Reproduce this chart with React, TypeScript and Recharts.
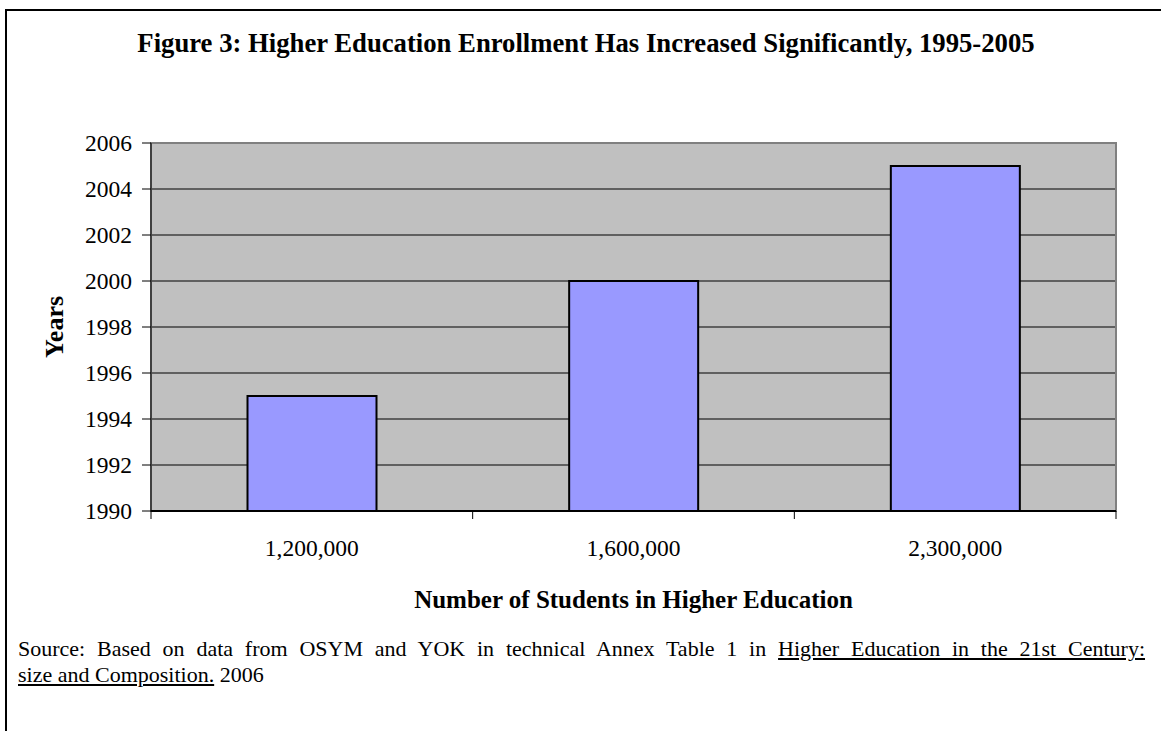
import React from "react";
import { BarChart, Bar, XAxis, YAxis, CartesianGrid, ReferenceArea, Label } from "recharts";

const categories = ["1,200,000", "1,600,000", "2,300,000"];
const years = [1995, 2000, 2005];
const yTicks = [1990, 1992, 1994, 1996, 1998, 2000, 2002, 2004, 2006];

const data = categories.map((c, i) => ({ students: c, year: years[i] }));

const FONT = "'Liberation Serif', 'Times New Roman', serif";

const XTick = (props: any) => {
  const { x, y, payload, index } = props;
  const off = payload.offset || 0;
  const last = index === categories.length - 1;
  return (
    <g>
      <line x1={x - off} y1={y} x2={x - off} y2={y + 8} stroke="#000" strokeWidth={1} />
      {last && <line x1={x + off} y1={y} x2={x + off} y2={y + 8} stroke="#000" strokeWidth={1} />}
      <text x={x} y={y + 45} textAnchor="middle" fontFamily={FONT} fontSize={23.5} fill="#000">
        {payload.value}
      </text>
    </g>
  );
};

export default function App() {
  return (
    <div
      style={{
        position: "absolute",
        left: 0,
        top: 0,
        width: 1161,
        height: 731,
        overflow: "hidden",
        background: "#fff",
        fontFamily: FONT,
      }}
    >
      <div
        style={{
          position: "absolute",
          left: 5,
          top: 9,
          width: 1300,
          height: 900,
          borderLeft: "2.5px solid #000",
          borderTop: "2.5px solid #000",
        }}
      />
      <div
        style={{
          position: "absolute",
          left: 0,
          top: 28,
          width: 1172,
          textAlign: "center",
          fontWeight: "bold",
          fontSize: 26.7,
          lineHeight: "30px",
          color: "#000",
          whiteSpace: "nowrap",
        }}
      >
        Figure 3: Higher Education Enrollment Has Increased Significantly, 1995-2005
      </div>
      <div style={{ position: "absolute", left: 0, top: 0 }}>
        <BarChart
          width={1161}
          height={731}
          data={data}
          margin={{ top: 143, right: 45, left: 71, bottom: 160 }}
          barCategoryGap="30%"
        >
          <CartesianGrid fill="#C0C0C0" stroke="#000" vertical={false} strokeWidth={1} />
          <ReferenceArea y1={1990} y2={2006} fill="none" stroke="#808080" strokeWidth={2} ifOverflow="visible" />
          <YAxis
            type="number"
            domain={[1990, 2006]}
            ticks={yTicks}
            width={80}
            tickSize={9}
            tickMargin={10}
            interval={0}
            axisLine={{ stroke: "#404040", strokeWidth: 2 }}
            tickLine={{ stroke: "#000" }}
            tick={{ fontFamily: FONT, fontSize: 23.5, fill: "#000" }}
          >
            <Label
              value="Years"
              angle={-90}
              position="insideLeft"
              offset={-17}
              style={{ fontFamily: FONT, fontSize: 26, fontWeight: "bold", fill: "#000", textAnchor: "middle" }}
            />
          </YAxis>
          <XAxis
            dataKey="students"
            type="category"
            height={60}
            tickLine={false}
            tickSize={0}
            tickMargin={0}
            interval={0}
            axisLine={{ stroke: "#000", strokeWidth: 2 }}
            tick={<XTick />}
          >
            <Label
              value="Number of Students in Higher Education"
              position="insideBottom"
              offset={-37}
              style={{ fontFamily: FONT, fontSize: 25, fontWeight: "bold", fill: "#000" }}
            />
          </XAxis>
          <Bar dataKey="year" fill="#9999FF" stroke="#000" strokeWidth={2} isAnimationActive={false} />
        </BarChart>
      </div>
      <div
        style={{
          position: "absolute",
          left: 18,
          top: 636,
          width: 1127,
          fontSize: 22,
          lineHeight: "26px",
          color: "#000",
        }}
      >
        <div style={{ textAlign: "justify", textAlignLast: "justify", whiteSpace: "nowrap" as any }}>
          Source: Based on data from OSYM and YOK in technical Annex Table 1 in{" "}
          <span style={{ textDecoration: "underline" }}>Higher Education in the 21st Century:</span>
        </div>
        <div>
          <span style={{ textDecoration: "underline" }}>size and Composition.</span> 2006
        </div>
      </div>
    </div>
  );
}
